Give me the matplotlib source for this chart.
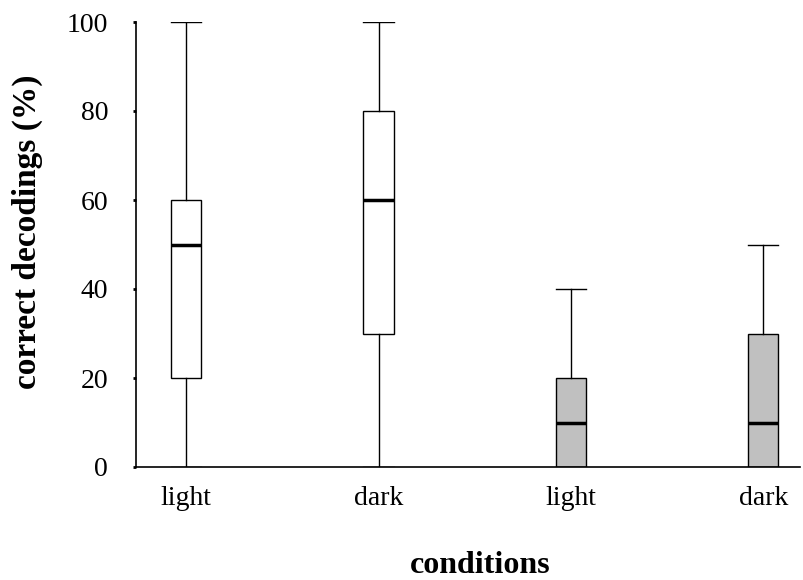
import matplotlib
matplotlib.use("Agg")
import matplotlib.pyplot as plt

categories = ["light", "dark", "light", "dark"]
whisker_low = [0, 0, 0, 0]
q1 = [20, 30, 0, 0]
median = [50, 60, 10, 10]
q3 = [60, 80, 20, 30]
whisker_high = [100, 100, 40, 50]
fills = ["white", "white", "#c0c0c0", "#c0c0c0"]
yticks = [0, 20, 40, 60, 80, 100]

plt.rcParams['font.family'] = ['Liberation Serif', 'DejaVu Serif']

W, H = 804, 580
fig = plt.figure(figsize=(W/100, H/100), dpi=100)
ax = fig.add_axes([136/W, (H-467)/H, (800-136)/W, (467-22)/H])

stats = []
for i in range(4):
    stats.append(dict(med=median[i], q1=q1[i], q3=q3[i],
                      whislo=whisker_low[i], whishi=whisker_high[i], fliers=[]))
pos = [1, 2, 3, 4]
bp = ax.bxp(stats, positions=pos, widths=0.156, patch_artist=True, showfliers=False,
            boxprops=dict(linewidth=1.0, edgecolor='black'),
            whiskerprops=dict(linewidth=1.0, color='black'),
            capprops=dict(linewidth=1.0, color='black'),
            medianprops=dict(linewidth=2.5, color='black'),
            capwidths=0.156)
for patch, c in zip(bp['boxes'], fills):
    patch.set_facecolor(c)

ax.set_xlim(0.74, 4.19)
ax.set_ylim(0, 100)
ax.set_yticks(yticks)
ax.set_yticklabels([str(t) for t in yticks], fontsize=20)
ax.set_xticks(pos)
ax.set_xticklabels(categories, fontsize=20)
ax.tick_params(axis='x', length=0, pad=14)
ax.tick_params(axis='y', length=2, width=2, pad=18)
for s in ['top', 'right']:
    ax.spines[s].set_visible(False)
ax.spines['left'].set_linewidth(1.2)
ax.spines['bottom'].set_linewidth(1.2)

fig.text(480/W, (H-573)/H, "conditions", fontsize=23, fontweight='bold',
         ha='center', va='baseline')
fig.text(27/W, (H-232)/H, "correct decodings (%)", fontsize=24, fontweight='bold',
         ha='center', va='center', rotation=90)

fig.savefig("out.png", dpi=100)
